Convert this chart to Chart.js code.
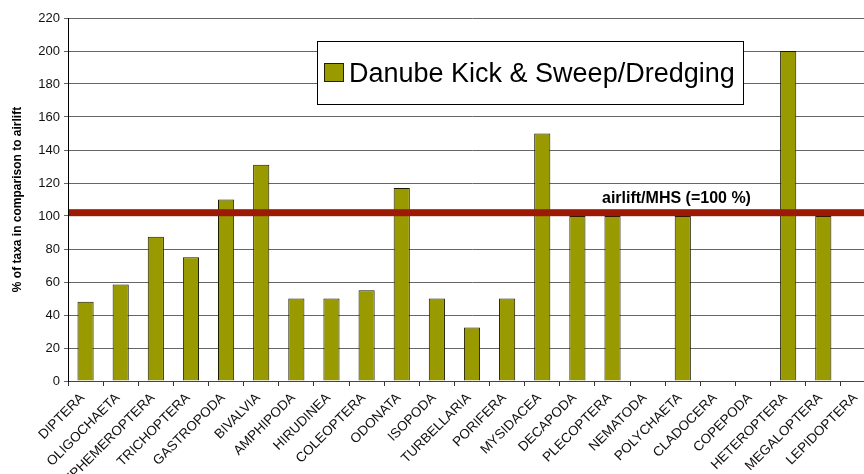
<!DOCTYPE html>
<html>
<head>
<meta charset="utf-8">
<script src="https://cdn.jsdelivr.net/npm/chart.js@4/dist/chart.umd.min.js"></script>
<style>
  html, body { margin: 0; padding: 0; background: #fff; overflow: hidden; }
  #wrap { width: 880px; height: 474px; }
</style>
</head>
<body>
<div id="wrap"><canvas id="taxaChart" width="880" height="474"></canvas></div>
<script>
// taxa groups along the x axis
const taxa = [
    'DIPTERA', 'OLIGOCHAETA', 'EPHEMEROPTERA', 'TRICHOPTERA', 'GASTROPODA', 'BIVALVIA',
    'AMPHIPODA', 'HIRUDINEA', 'COLEOPTERA', 'ODONATA', 'ISOPODA', 'TURBELLARIA',
    'PORIFERA', 'MYSIDACEA', 'DECAPODA', 'PLECOPTERA', 'NEMATODA', 'POLYCHAETA',
    'CLADOCERA', 'COPEPODA', 'HETEROPTERA', 'MEGALOPTERA', 'LEPIDOPTERA'
];
// % of taxa found with kick & sweep / dredging, airlift = 100
const kickSweep = [
    48, 58.5, 87.5, 75, 110, 131,
    50, 50, 55, 117, 50, 32.5,
    50, 150, 100, 100, 0, 100,
    0, 0, 200, 100, 0
];
const yTicks = [0, 20, 40, 60, 80, 100, 120, 140, 160, 180, 200, 220];
const seriesName = 'Danube Kick & Sweep/Dredging';
const refLineValue = 102;
const refLineLabel = 'airlift/MHS (=100 %)';

const FONT = '"Liberation Sans", Arial, sans-serif';

// reference line + its label, drawn over the bars
const airliftLine = {
    id: 'airliftLine',
    afterDatasetsDraw(chart) {
        const { ctx, chartArea } = chart;
        const y = chart.scales.y.getPixelForValue(refLineValue);
        ctx.save();
        ctx.fillStyle = '#9c1a04';
        ctx.fillRect(chartArea.left + 1, y - 3.5, chartArea.right - chartArea.left, 7);
        ctx.fillStyle = '#000';
        ctx.font = 'bold 16px ' + FONT;
        ctx.textAlign = 'left';
        ctx.textBaseline = 'alphabetic';
        ctx.fillText(refLineLabel, 602, y - 10);
        ctx.restore();
    }
};

// boxed legend inside the plot
const boxLegend = {
    id: 'boxLegend',
    afterDraw(chart) {
        const { ctx } = chart;
        const ds = chart.data.datasets[0];
        ctx.save();
        ctx.fillStyle = '#fff';
        ctx.fillRect(317, 41, 426, 63);
        ctx.strokeStyle = '#000';
        ctx.lineWidth = 1;
        ctx.strokeRect(317.5, 41.5, 426, 63);
        ctx.fillStyle = ds.backgroundColor;
        ctx.fillRect(324, 63, 20, 19);
        ctx.strokeStyle = '#222200';
        ctx.strokeRect(324.5, 63.5, 19, 18);
        ctx.fillStyle = '#000';
        ctx.font = '27px ' + FONT;
        ctx.textBaseline = 'alphabetic';
        ctx.fillText(ds.label, 349, 82);
        ctx.restore();
    }
};

const ctx = document.getElementById('taxaChart').getContext('2d');
const taxaChart = new Chart(ctx, {
    type: 'bar',
    data: {
        labels: taxa,
        datasets: [{
            label: seriesName,
            data: kickSweep,
            backgroundColor: '#999900',
            borderColor: '#1a1a00',
            borderWidth: { top: 1, left: 1, right: 1, bottom: 0 },
            borderSkipped: 'bottom',
            barPercentage: 0.46,
            categoryPercentage: 1.0
        }]
    },
    options: {
        responsive: false,
        animation: false,
        layout: { padding: { top: 18, right: 4, left: 0, bottom: 0 } },
        plugins: {
            legend: { display: false },
            tooltip: { enabled: false }
        },
        scales: {
            x: {
                grid: {
                    drawOnChartArea: false,
                    tickLength: 5,
                    color: '#333'
                },
                border: { color: '#444', width: 1 },
                ticks: {
                    autoSkip: false,
                    maxRotation: 45,
                    minRotation: 45,
                    padding: 4,
                    labelOffset: -3,
                    color: '#111',
                    font: { family: FONT, size: 13.5 }
                },
                afterFit(scale) { scale.height = 93; }
            },
            y: {
                min: 0,
                max: 220,
                afterBuildTicks(scale) { scale.ticks = yTicks.map(v => ({ value: v })); },
                grid: {
                    color: '#666',
                    tickLength: 4
                },
                border: { color: '#000', width: 1 },
                ticks: {
                    padding: 4,
                    color: '#111',
                    font: { family: FONT, size: 13 }
                },
                title: {
                    display: true,
                    text: '% of taxa in comparison to airlift',
                    color: '#000',
                    font: { family: FONT, size: 12, weight: 'bold' },
                    padding: { top: 10, bottom: 0 }
                },
                afterFit(scale) { scale.width = 68; }
            }
        }
    },
    plugins: [airliftLine, boxLegend]
});
</script>
</body>
</html>
